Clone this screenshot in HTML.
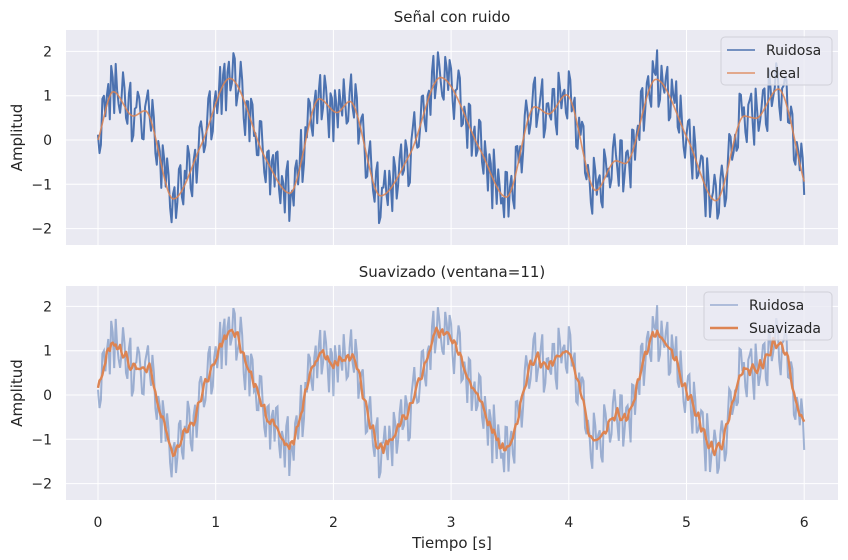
<!DOCTYPE html>
<html><head><meta charset="utf-8"><style>
body{margin:0;background:#fff;}
svg{display:block;font-family:"DejaVu Sans","Liberation Sans",sans-serif;}
</style></head><body>
<svg id="chart" width="848" height="560" xmlns="http://www.w3.org/2000/svg"></svg>
<script>
const keyT=[0,0.13,0.30,0.40,0.64,0.88,1.12,1.42,1.63,1.88,2.03,2.14,2.40,2.65,2.91,3.245,3.47,3.71,3.83,3.98,4.23,4.40,4.48,4.74,5.01,5.25,5.49,5.59,5.78,6.0];
const keyV=[0,1.09,0.54,0.66,-1.33,-0.09,1.39,-0.40,-1.2,0.93,0.62,0.87,-1.26,-0.32,1.41,-0.21,-1.29,0.75,0.59,1.02,-1.14,-0.47,-0.53,1.37,0.02,-1.37,0.54,0.49,1.15,-0.94];
const noise=[0.12,-0.35,0.48,0.21,-0.52,0.33,0.65,-0.18,0.05,0.41,-0.29,0.72,-0.44,0.18,0.36,-0.61,0.09,0.52,-0.23,0.30,
-0.47,0.14,0.58,-0.08,0.39,-0.55,0.26,-0.12,0.63,-0.37,0.07,0.45,-0.66,0.22,-0.19,0.54,-0.31,0.11,0.69,-0.42,
0.28,-0.05,-0.58,0.43,0.16,-0.27,0.61,-0.49,0.03,0.35,-0.71,0.24,0.50,-0.14,-0.38,0.57,0.08,-0.53,0.31,0.19,
-0.25,0.66,-0.40,0.13,0.47,-0.63,0.02,0.38,-0.21,0.74,-0.33,-0.06,0.42,-0.57,0.27,0.15,-0.45,0.59,-0.10,0.34,
-0.68,0.20,0.49,-0.16,0.06,-0.43,0.62,-0.26,0.37,-0.09,0.53,-0.60,0.25,0.10,-0.34,0.70,-0.48,0.17,-0.02,0.44,
-0.56,0.32,-0.20,0.60,-0.11,0.23,-0.64,0.46,0.04,-0.36,0.55,-0.24,0.13,-0.50,0.67,-0.07,0.29,-0.41,0.51,-0.17,
0.40,-0.62,0.19,0.58,-0.30,0.01,0.48,-0.54,0.27,-0.13,0.64,-0.39,0.09,0.36,-0.70,0.22,0.45,-0.22,-0.47,0.56,
0.14,-0.32,0.61,-0.05,-0.59,0.38,0.18,-0.28,0.52,-0.45,0.06,0.71,-0.35,0.24,-0.15,0.47,-0.66,0.30,0.08,-0.40,
0.57,-0.19,0.35,-0.52,0.11,0.63,-0.27,0.02,-0.61,0.44,0.21,-0.37,0.68,-0.08,-0.46,0.33,0.15,-0.55,0.50,-0.23,
0.26,-0.69,0.41,0.07,-0.31,0.59,-0.14,0.37,-0.50,0.19,0.66,-0.42,-0.03,0.28,-0.58,0.49,0.12,-0.26,0.62,-0.38,
0.04,0.53,-0.64,0.31,-0.18,0.45,-0.09,0.72,-0.48,0.16,0.35,-0.33,0.58,-0.57,0.10,0.43,-0.21,-0.44,0.65,0.02,
-0.36,0.27,0.54,-0.60,0.18,-0.12,0.48,-0.41,0.69,-0.25,0.08,0.39,-0.67,0.23,0.55,-0.16,0.34,-0.49,0.13,0.60,-0.30];
const noiseMid=[-0.41,0.55,-0.12,0.37,0.62,-0.48,0.09,-0.33,0.70,-0.21,0.44,-0.58,0.16,0.51,-0.07,-0.64,0.29,0.03,0.58,-0.36,
0.22,-0.53,0.41,0.67,-0.27,0.11,-0.45,0.59,-0.14,0.32,0.73,-0.39,0.06,-0.61,0.48,0.19,-0.24,0.63,-0.50,0.13,
-0.31,0.56,0.24,-0.67,0.38,-0.09,0.52,-0.18,0.69,-0.42,0.15,-0.56,0.47,0.02,-0.29,0.64,-0.37,0.21,-0.62,0.40,
0.57,-0.13,0.26,-0.49,0.71,-0.05,-0.38,0.45,0.10,-0.59,0.33,0.66,-0.23,0.08,-0.52,0.54,-0.16,0.36,-0.69,0.27,
0.49,-0.34,0.12,0.62,-0.46,0.20,-0.08,0.58,-0.55,0.30,0.04,-0.41,0.67,-0.20,0.43,-0.63,0.18,0.53,-0.30,0.07,
0.61,-0.44,0.35,-0.15,0.50,-0.66,0.25,0.72,-0.28,-0.02,0.46,-0.57,0.14,0.39,-0.35,0.60,-0.11,-0.48,0.28,0.55,
-0.26,0.09,0.68,-0.43,0.17,-0.60,0.52,0.01,-0.32,0.63,-0.19,0.42,-0.54,0.23,0.70,-0.39,0.11,-0.06,0.57,-0.47,
0.31,-0.65,0.48,0.16,-0.25,0.59,-0.40,0.05,0.66,-0.17,0.37,-0.58,0.22,-0.04,0.51,-0.36,0.68,-0.22,0.13,-0.53,
0.44,0.06,-0.62,0.34,0.57,-0.27,0.19,-0.45,0.71,-0.10,0.28,-0.56,0.40,0.03,-0.33,0.61,-0.18,0.49,-0.64,0.24,
-0.07,0.53,-0.37,0.15,0.65,-0.51,0.32,-0.23,0.47,0.10,-0.60,0.38,-0.14,0.56,-0.44,0.21,0.69,-0.30,0.08,-0.55,
0.42,-0.19,0.62,-0.35,0.12,0.50,-0.66,0.27,-0.03,0.58,-0.42,0.35,0.17,-0.52,0.64,-0.24,0.05,-0.47,0.55,0.20,
-0.58,0.39,-0.12,0.67,-0.31,0.14,0.46,-0.63,0.25,-0.08,0.60,-0.38,0.10,0.52,-0.27,0.36,-0.54,0.18,-0.15,0.41];
const xTicks=[0,1,2,3,4,5,6];
const yTicks=[-2,-1,0,1,2];
const tMax=6;

const NS="http://www.w3.org/2000/svg";
const svg=document.getElementById('chart');
function mk(tag,attrs,parent){const e=document.createElementNS(NS,tag);for(const k in attrs)e.setAttribute(k,attrs[k]);(parent||svg).appendChild(e);return e;}

function ideal(t){
  const n=keyT.length;const m=[];const d=[];
  for(let i=0;i<n-1;i++)d.push((keyV[i+1]-keyV[i])/(keyT[i+1]-keyT[i]));
  m[0]=d[0];m[n-1]=d[n-2];
  for(let i=1;i<n-1;i++){m[i]=(d[i-1]*d[i]<=0)?0:2/(1/d[i-1]+1/d[i]);}
  let i=0;while(i<n-2&&t>keyT[i+1])i++;
  const h=keyT[i+1]-keyT[i],s=(t-keyT[i])/h;
  const h00=2*s*s*s-3*s*s+1,h10=s*s*s-2*s*s+s,h01=-2*s*s*s+3*s*s,h11=s*s*s-s*s;
  return h00*keyV[i]+h10*h*m[i]+h01*keyV[i+1]+h11*h*m[i+1];
}
const step=tMax/(noise.length-1);
const noisyT=[],noisyN=[];
noise.forEach((nz,i)=>{noisyT.push(i*step);noisyN.push(nz);if(i<noiseMid.length){noisyT.push((i+0.5)*step);noisyN.push(noiseMid[i]);}});
const noisyV=noisyN.map((nz,i)=>ideal(noisyT[i])+nz);
const W=3;
const smoothV=noisyV.map((_,i)=>{let s=0,c=0;for(let k=i-W;k<=i+W;k++){if(k>=0&&k<noisyV.length){s+=noisyV[k];c++;}}return s/c;});

const X0=66,X1=838;
const xs=t=>98+t*117.7;
function makeAxes(top,bot,zeroY,name){
  const ys=v=>zeroY-v*44.3;
  const g=mk('g',{});
  
  
  const bg=mk('rect',{x:X0,y:top,width:X1-X0,height:bot-top,fill:'#eaeaf2'},g);
  
  xTicks.forEach(v=>{const l=mk('line',{x1:xs(v),x2:xs(v),y1:top,y2:bot,stroke:'#fff','stroke-width':1},g);
    });
  yTicks.forEach(v=>{const l=mk('line',{x1:X0,x2:X1,y1:ys(v),y2:ys(v),stroke:'#fff','stroke-width':1},g);
    
    const tx=mk('text',{x:52,y:ys(v)+5,'text-anchor':'end','font-size':14,fill:'#262626'},g);
    tx.textContent=v===0?'0':(v<0?'\u2212'+(-v):String(v));
    });
  const yl=mk('text',{x:0,y:0,'font-size':15,fill:'#262626','text-anchor':'middle',transform:`translate(22,${(top+bot)/2}) rotate(-90)`},g);
  yl.textContent='Amplitud';
  return {g,ys};
}
function path(T,V,ys){return T.map((t,i)=>(i?'L':'M')+xs(t).toFixed(1)+','+ys(V[i]).toFixed(1)).join('');}

const A=makeAxes(30,245,140,'top-axes');
let p=mk('path',{d:path(noisyT,noisyV,A.ys),fill:'none',stroke:'#4c72b0','stroke-width':2,'stroke-linejoin':'round'},A.g);

const fineT=[];for(let i=0;i<=600;i++)fineT.push(i*tMax/600);
p=mk('path',{d:path(fineT,fineT.map(ideal),A.ys),fill:'none',stroke:'#dd8452','stroke-width':1.6,'stroke-opacity':0.85},A.g);

let t=mk('text',{x:452,y:22,'text-anchor':'middle','font-size':15,fill:'#262626'});
t.textContent='Señal con ruido';

const B=makeAxes(286,500,395,'bottom-axes');
p=mk('path',{d:path(noisyT,noisyV,B.ys),fill:'none',stroke:'#4c72b0','stroke-width':2,'stroke-opacity':0.5},B.g);

p=mk('path',{d:path(noisyT,smoothV,B.ys),fill:'none',stroke:'#dd8452','stroke-width':2.4,'stroke-linejoin':'round'},B.g);

t=mk('text',{x:452,y:277,'text-anchor':'middle','font-size':15,fill:'#262626'});
t.textContent='Suavizado (ventana=11)';
xTicks.forEach(v=>{const tx=mk('text',{x:xs(v),y:527,'text-anchor':'middle','font-size':14,fill:'#262626'});
  tx.textContent=String(v);});
t=mk('text',{x:452,y:548,'text-anchor':'middle','font-size':15,fill:'#262626'});
t.textContent='Tiempo [s]';

function legend(x,y,w,items,name){
  const g=mk('g',{});
  mk('rect',{x,y,width:w,height:48,rx:4,fill:'#eaeaf2','fill-opacity':0.8,stroke:'#d0d0d8'},g);
  items.forEach((it,i)=>{const yy=y+13+i*23;
    const l=mk('line',{x1:x+6,x2:x+34,y1:yy,y2:yy,stroke:it.c,'stroke-width':it.w,'stroke-opacity':it.o},g);
    
    const tx=mk('text',{x:x+45,y:yy+5,'font-size':14,fill:'#262626'},g);tx.textContent=it.l;
    });
}
legend(721,37,111,[{c:'#4c72b0',w:1.6,o:1,l:'Ruidosa'},{c:'#dd8452',w:1.6,o:0.85,l:'Ideal'}],'top-legend');
legend(704,292,128,[{c:'#4c72b0',w:1.6,o:0.5,l:'Ruidosa'},{c:'#dd8452',w:2.4,o:1,l:'Suavizada'}],'bottom-legend');
</script>
</body></html>
